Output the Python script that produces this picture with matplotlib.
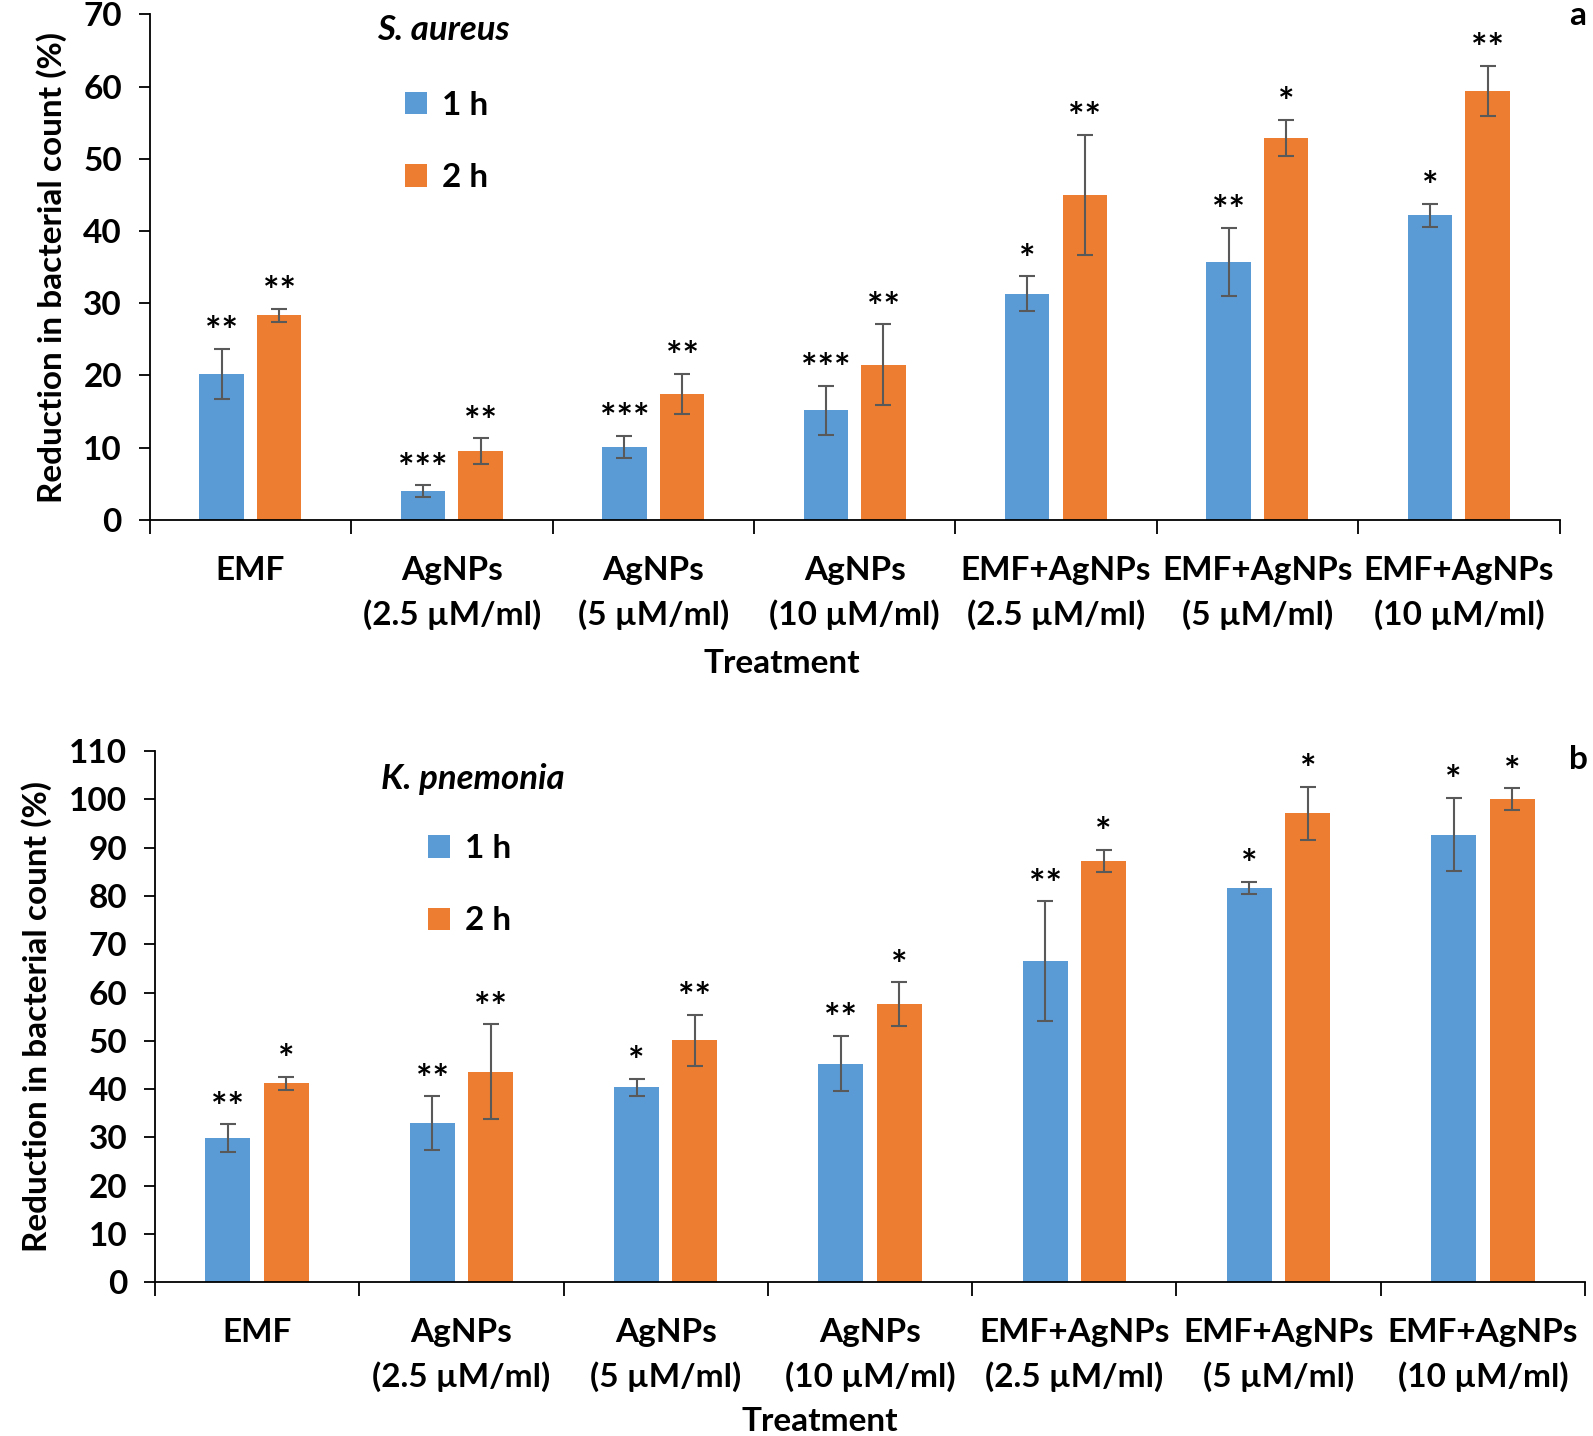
import matplotlib
matplotlib.use("Agg")
import matplotlib.pyplot as plt
import numpy as np

plt.rcParams['font.family'] = ['Lato', 'DejaVu Sans']
plt.rcParams['font.weight'] = 'bold'
plt.rcParams['axes.labelweight'] = 'bold'

treatments = ["EMF", "AgNPs\n(2.5 µM/ml)", "AgNPs\n(5 µM/ml)", "AgNPs\n(10 µM/ml)",
              "EMF+AgNPs\n(2.5 µM/ml)", "EMF+AgNPs\n(5 µM/ml)", "EMF+AgNPs\n(10 µM/ml)"]

# panel a - S. aureus
sa_1h = [20.2, 4.0, 10.1, 15.2, 31.3, 35.7, 42.2]
sa_1h_err = [3.5, 0.8, 1.5, 3.4, 2.4, 4.7, 1.6]
sa_2h = [28.3, 9.5, 17.4, 21.5, 45.0, 52.9, 59.4]
sa_2h_err = [0.9, 1.8, 2.8, 5.6, 8.3, 2.5, 3.5]
sa_sig_1h = ["**", "***", "***", "***", "*", "**", "*"]
sa_sig_2h = ["**", "**", "**", "**", "**", "*", "**"]

# panel b - K. pnemonia
kp_1h = [29.8, 33.0, 40.4, 45.3, 66.5, 81.6, 92.7]
kp_1h_err = [2.9, 5.5, 1.8, 5.7, 12.4, 1.3, 7.6]
kp_2h = [41.2, 43.6, 50.1, 57.6, 87.3, 97.1, 100.0]
kp_2h_err = [1.4, 9.8, 5.3, 4.5, 2.3, 5.5, 2.3]
kp_sig_1h = ["**", "**", "*", "**", "**", "*", "*"]
kp_sig_2h = ["*", "**", "**", "*", "*", "*", "*"]

blue = "#5B9BD5"
orange = "#ED7D31"


def draw_panel(ax, v1, e1, v2, e2, s1, s2, ymax, species, leg_x, leg_y, sp_xy, xlab_xy):
    x = np.arange(len(treatments))
    w = 0.22
    off = 0.143
    ekw = dict(ecolor="#595959", elinewidth=1.5, capsize=6, capthick=1.5)
    ax.bar(x - off, v1, w, color=blue, yerr=e1, error_kw=ekw, label="1 h")
    ax.bar(x + off, v2, w, color=orange, yerr=e2, error_kw=ekw, label="2 h")
    for xi, v, e, s in zip(x - off, v1, e1, s1):
        ax.annotate(s, (xi, v + e), xytext=(0, -1), textcoords="offset points",
                    ha="center", va="bottom", fontsize=28)
    for xi, v, e, s in zip(x + off, v2, e2, s2):
        ax.annotate(s, (xi, v + e), xytext=(0, -1), textcoords="offset points",
                    ha="center", va="bottom", fontsize=28)

    ax.set_xlim(-0.5, len(treatments) - 0.5)
    ax.set_ylim(0, ymax)
    ax.set_yticks(np.arange(0, ymax + 1, 10))
    ax.tick_params(axis="y", labelsize=24, length=8, width=1.3, pad=12)
    ax.set_xticks(np.arange(-0.5, len(treatments)), labels=[])
    ax.tick_params(axis="x", which="major", length=10, width=1.3)
    ax.set_xticks(x, labels=treatments, minor=True)
    for lab in ax.get_xticklabels(minor=True):
        lab.set_linespacing(1.55)
    ax.tick_params(axis="x", which="minor", length=0, labelsize=24, pad=26)
    for s in ["top", "right"]:
        ax.spines[s].set_visible(False)
    for s in ["left", "bottom"]:
        ax.spines[s].set_linewidth(1.3)
    ax.set_xlabel("Treatment", fontsize=24)
    ax.xaxis.set_label_coords(*xlab_xy)
    ax.set_ylabel("Reduction in bacterial count (%)", fontsize=24, labelpad=12)
    ax.text(sp_xy[0], sp_xy[1], species, transform=ax.transAxes, style="italic",
            fontsize=25, ha="center", va="center")
    ax.legend(loc="upper left", bbox_to_anchor=(leg_x, leg_y), frameon=False,
              fontsize=24, handlelength=0.65, handleheight=0.65, handletextpad=0.45,
              labelspacing=1.3)


fig = plt.figure(figsize=(15.93, 14.36), dpi=100)
ax_a = fig.add_axes([0.094, 0.638, 0.885, 0.352])
ax_b = fig.add_axes([0.0973, 0.107, 0.8977, 0.370])

draw_panel(ax_a, sa_1h, sa_1h_err, sa_2h, sa_2h_err, sa_sig_1h, sa_sig_2h, 70,
           "S. aureus", 0.16, 0.908, (0.2085, 0.969), (0.448, -0.255))
draw_panel(ax_b, kp_1h, kp_1h_err, kp_2h, kp_2h_err, kp_sig_1h, kp_sig_2h, 110,
           "K. pnemonia", 0.17, 0.9, (0.222, 0.947), (0.465, -0.235))

fig.text(0.9906, 0.9895, "a", fontsize=24, ha="center", va="center")
fig.text(0.9906, 0.471, "b", fontsize=24, ha="center", va="center")

fig.savefig("out.png", dpi=100)
